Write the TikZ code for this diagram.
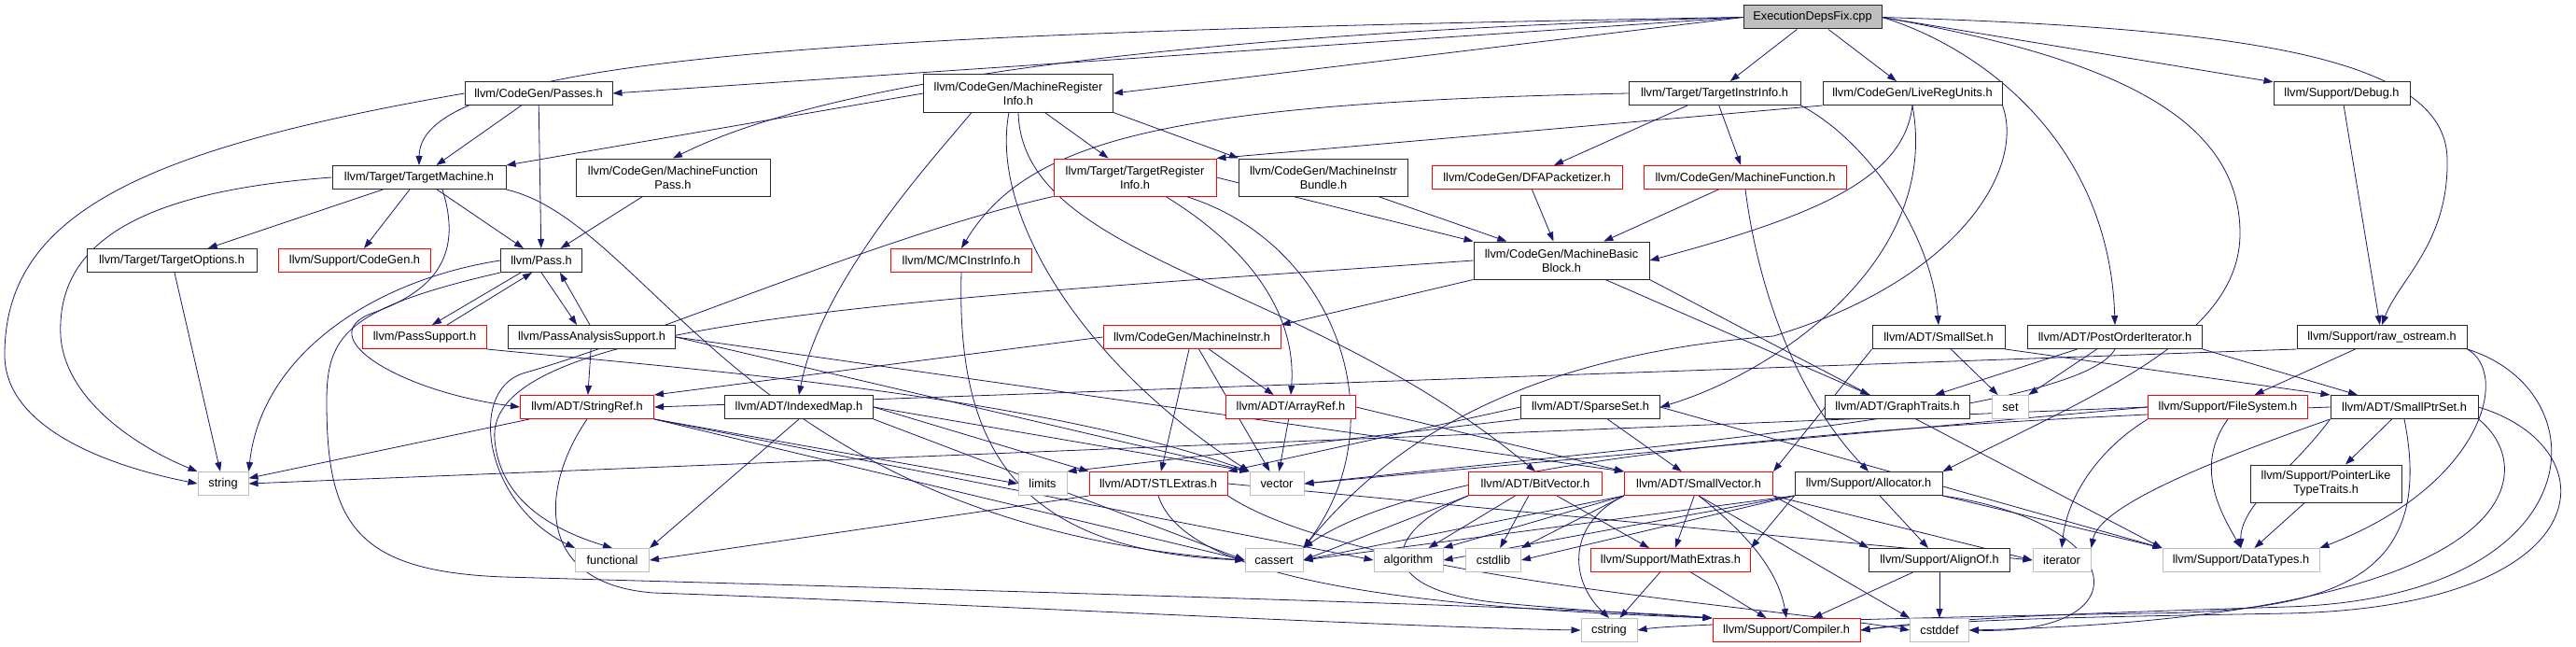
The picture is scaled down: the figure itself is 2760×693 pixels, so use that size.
\documentclass[tikz,border=0pt]{standalone}
\usepackage{fontspec}
\setmainfont{Liberation Sans}
\usepackage{tikz}
\usetikzlibrary{arrows.meta}
\definecolor{edgeblue}{HTML}{191970}
\definecolor{sysgray}{HTML}{BFBFBF}
\definecolor{rootgray}{HTML}{BFBFBF}
\definecolor{truncred}{HTML}{FF0000}
\pgfdeclarelayer{background}
\pgfsetlayers{background,main}
\tikzset{
    hdr/.style = {rectangle, draw=black!85, line width=1pt, fill=white,
                  font=\fontsize{12.8}{15}\selectfont, align=center,
                  inner xsep=4pt, inner ysep=0pt, minimum height=25pt},
    hdrtwo/.style = {hdr, minimum height=40pt},
    trunc/.style = {draw=truncred},
    sysinc/.style = {draw=sysgray},
    rootfile/.style = {hdr, fill=rootgray},
    dep/.style = {-{Triangle[length=10pt, width=7pt]}, line width=0.8pt, color=edgeblue},
}

\begin{document}
\begin{tikzpicture}[x=1pt, y=-1pt]
    \useasboundingbox (0,0) rectangle (2760,693);
    % source file
    \node[rootfile, minimum width=148pt] (root) at (1942,18.5) {ExecutionDepsFix.cpp};
    % headers, row by row
    \node[hdr, minimum width=158pt] (passes) at (577,100) {llvm/CodeGen/Passes.h};
    \node[hdrtwo, minimum width=203pt] (mri) at (1091,100) {llvm/CodeGen/MachineRegister\\Info.h};
    \node[hdr, minimum width=184pt] (tii) at (1837,100) {llvm/Target/TargetInstrInfo.h};
    \node[hdr, minimum width=192pt] (lru) at (2049,100) {llvm/CodeGen/LiveRegUnits.h};
    \node[hdr, minimum width=146pt] (debug) at (2509,100) {llvm/Support/Debug.h};

    \node[hdr, minimum width=186pt] (tm) at (449,190) {llvm/Target/TargetMachine.h};
    \node[hdrtwo, minimum width=208pt] (mfp) at (721,190) {llvm/CodeGen/MachineFunction\\Pass.h};
    \node[hdrtwo, trunc, minimum width=174pt] (tri) at (1216,190) {llvm/Target/TargetRegister\\Info.h};
    \node[hdrtwo, minimum width=181pt] (mib) at (1418,190) {llvm/CodeGen/MachineInstr\\Bundle.h};
    \node[hdr, trunc, minimum width=204pt] (dfa) at (1636,190) {llvm/CodeGen/DFAPacketizer.h};
    \node[hdr, trunc, minimum width=217pt] (mf) at (1870,190) {llvm/CodeGen/MachineFunction.h};

    \node[hdr, minimum width=182pt] (topt) at (184,279) {llvm/Target/TargetOptions.h};
    \node[hdr, trunc, minimum width=163pt] (cg) at (380,279) {llvm/Support/CodeGen.h};
    \node[hdr, minimum width=87pt] (pass) at (580,279) {llvm/Pass.h};
    \node[hdr, trunc, minimum width=151pt] (mcii) at (1030,279) {llvm/MC/MCInstrInfo.h};
    \node[hdrtwo, minimum width=188pt] (mbb) at (1673,279) {llvm/CodeGen/MachineBasic\\Block.h};

    \node[hdr, trunc, minimum width=133pt] (psup) at (455,361) {llvm/PassSupport.h};
    \node[hdr, minimum width=179pt] (pas) at (634,361) {llvm/PassAnalysisSupport.h};
    \node[hdr, trunc, minimum width=190pt] (mi) at (1277,361) {llvm/CodeGen/MachineInstr.h};
    \node[hdr, minimum width=142pt] (smset) at (2077,361) {llvm/ADT/SmallSet.h};
    \node[hdr, minimum width=187pt] (poi) at (2266,361) {llvm/ADT/PostOrderIterator.h};
    \node[hdr, minimum width=182pt] (raw) at (2552,361) {llvm/Support/raw\_ostream.h};

    \node[hdr, trunc, minimum width=143pt] (sref) at (629,436) {llvm/ADT/StringRef.h};
    \node[hdr, minimum width=159pt] (imap) at (856,436) {llvm/ADT/IndexedMap.h};
    \node[hdr, trunc, minimum width=139pt] (aref) at (1383,436) {llvm/ADT/ArrayRef.h};
    \node[hdr, minimum width=149pt] (sset) at (1704,436) {llvm/ADT/SparseSet.h};
    \node[hdr, minimum width=155pt] (gtr) at (2033,436) {llvm/ADT/GraphTraits.h};
    \node[hdr, sysinc, minimum width=39pt] (set) at (2154,436) {set};
    \node[hdr, trunc, minimum width=171pt] (fs) at (2387,436) {llvm/Support/FileSystem.h};
    \node[hdr, minimum width=158pt] (sps) at (2576,436) {llvm/ADT/SmallPtrSet.h};

    \node[hdr, sysinc, minimum width=54pt] (string) at (239,518) {string};
    \node[hdr, sysinc, minimum width=52pt] (limits) at (1117,518) {limits};
    \node[hdr, trunc, minimum width=148pt] (stl) at (1241,518) {llvm/ADT/STLExtras.h};
    \node[hdr, sysinc, minimum width=58pt] (vector) at (1368,518) {vector};
    \node[hdr, trunc, minimum width=143pt] (bv) at (1645,518) {llvm/ADT/BitVector.h};
    \node[hdr, trunc, minimum width=159pt] (sv) at (1820,518) {llvm/ADT/SmallVector.h};
    \node[hdr, minimum width=158pt] (alloc) at (2002,518) {llvm/Support/Allocator.h};
    \node[hdrtwo, minimum width=162pt] (pltt) at (2492,518) {llvm/Support/PointerLike\\TypeTraits.h};

    \node[hdr, sysinc, minimum width=79pt] (functional) at (656,600) {functional};
    \node[hdr, sysinc, minimum width=62pt] (cassert) at (1365,600) {cassert};
    \node[hdr, sysinc, minimum width=74pt] (algorithm) at (1509,600) {algorithm};
    \node[hdr, sysinc, minimum width=59pt] (cstdlib) at (1600,600) {cstdlib};
    \node[hdr, trunc, minimum width=171pt] (mathx) at (1790,600) {llvm/Support/MathExtras.h};
    \node[hdr, minimum width=151pt] (alignof) at (2078,600) {llvm/Support/AlignOf.h};
    \node[hdr, sysinc, minimum width=62pt] (iterator) at (2209,600) {iterator};
    \node[hdr, sysinc, minimum width=168pt] (dtypes) at (2401,600) {llvm/Support/DataTypes.h};

    \node[hdr, sysinc, minimum width=60pt] (cstring) at (1724,675) {cstring};
    \node[hdr, trunc, minimum width=158pt] (compiler) at (1914,675) {llvm/Support/Compiler.h};
    \node[hdr, sysinc, minimum width=63pt] (cstddef) at (2078,675) {cstddef};

    \begin{pgfonlayer}{background}
    % includes of the source file
    \draw[dep] (root.west) -- (passes.east);
    \draw[dep] (root.west) .. controls (900,35) and (450,60) .. (tm.north);
    \draw[dep] (root.west) .. controls (1300,35) and (900,80) .. (mfp.north);
    \draw[dep] (root.west) -- (mri.east);
    \draw[dep] (root) -- (tii);
    \draw[dep] (root) -- (lru);
    \draw[dep] (root.east) .. controls (2120,50) and (2260,150) .. (poi.north);
    \draw[dep] (root.east) .. controls (2250,60) and (2400,120) .. (2400,250)
               .. controls (2400,360) and (2250,420) .. (alloc.north east);
    \draw[dep] (root.east) -- (debug);
    \draw[dep] (root.east) .. controls (2400,30) and (2620,60) .. (2622,170)
               .. controls (2624,260) and (2570,300) .. (raw.north);
    % Passes.h, TargetMachine.h
    \draw[dep] (passes) -- (tm);
    \draw[dep] (passes) -- (pass);
    \draw[dep] (passes.west) .. controls (150,160) and (5,230) .. (5,380)
               .. controls (5,460) and (120,500) .. (string.west);
    \draw[dep] (tm) -- (topt);
    \draw[dep] (tm) -- (cg);
    \draw[dep] (tm) -- (pass);
    \draw[dep] (tm.west) .. controls (150,205) and (60,260) .. (65,360)
               .. controls (70,430) and (150,480) .. (string.north west);
    \draw[dep] ([xshift=25pt]tm.south) .. controls (495,270) and (470,310) .. (400,335)
               .. controls (330,360) and (430,420) .. (sref.west);
    \draw[dep] (tm.south east) .. controls (700,240) and (800,560) .. (cassert.west);
    \draw[dep] (topt) -- (string);
    \draw[dep] (mfp) -- (pass);
    % Pass.h and its helpers
    \draw[dep] ([xshift=-22pt]pass.south) -- ([xshift=8pt]psup.north);
    \draw[dep] ([xshift=24pt]psup.north) -- ([xshift=-10pt]pass.south);
    \draw[dep] (pass.south) -- ([xshift=-16pt]pas.north);
    \draw[dep] ([xshift=-2pt]pas.north) -- ([xshift=20pt]pass.south);
    \draw[dep] (pass.west) .. controls (400,300) and (280,380) .. (string.north east);
    \draw[dep] (pass.south west) .. controls (370,330) and (350,360) .. (350,430)
               .. controls (350,560) and (380,612) .. (540,618)
               .. controls (900,628) and (1700,650) .. (compiler.north west);
    \draw[dep] (psup.south east) .. controls (700,392) and (1100,420) .. (vector.north west);
    \draw[dep] (pas) -- (sref);
    \draw[dep] (pas.east) -- (sv.north west);
    \draw[dep] (pas.east) -- (vector.north west);
    % MachineRegisterInfo.h
    \draw[dep] (mri.west) -- (tm.north east);
    \draw[dep] (mri) -- (tri);
    \draw[dep] (mri.south east) -- (mib.north west);
    \draw[dep] ([xshift=-50pt]mri.south) .. controls (1000,170) and (880,300) .. (imap.north);
    \draw[dep] ([xshift=-10pt]mri.south) .. controls (1060,230) and (1160,390) .. (vector.north west);
    \draw[dep] (mri.south) .. controls (1095,280) and (1400,300) .. (bv.north);
    % TargetRegisterInfo.h
    \draw[dep] (tri.east) -- (mbb.north west);
    \draw[dep] ([xshift=33pt]tri.south) .. controls (1330,260) and (1390,330) .. (aref.north);
    \draw[dep] ([xshift=55pt]tri.south) .. controls (1430,260) and (1500,450) .. (cassert.north east);
    \draw[dep] (tri.south west) .. controls (950,250) and (700,360) .. (560,400)
               .. controls (500,420) and (520,540) .. (functional.north west);
    \draw[dep] (mib) -- (mbb);
    \draw[dep] (dfa) -- (mbb);
    \draw[dep] (mf) -- (mbb);
    \draw[dep] (mf.south) .. controls (1885,320) and (1930,430) .. (alloc.north);
    % TargetInstrInfo.h, LiveRegUnits.h
    \draw[dep] (tii.west) .. controls (1250,110) and (1100,150) .. (mcii.north);
    \draw[dep] (tii) -- (dfa);
    \draw[dep] (tii) -- (mf);
    \draw[dep] (tii.south east) .. controls (2000,150) and (2070,250) .. (smset.north);
    \draw[dep] (lru.south west) -- (tri.north east);
    \draw[dep] (lru.south) .. controls (2040,190) and (1950,230) .. (mbb.east);
    \draw[dep] (lru.south) .. controls (2080,280) and (1900,400) .. (sset.east);
    \draw[dep] (lru.south east) .. controls (2170,180) and (2100,300) .. (1900,360)
               .. controls (1650,380) and (1500,460) .. (cassert.north east);
    \draw[dep] (mcii.south) .. controls (1025,470) and (1080,590) .. (cassert.west);
    % MachineBasicBlock.h, MachineInstr.h
    \draw[dep] (mbb.south west) -- (mi.north east);
    \draw[dep] (mbb) -- (gtr);
    \draw[dep] (mbb.south east) -- (dtypes.north west);
    \draw[dep] (mbb.west) .. controls (1000,320) and (520,340) .. (530,470)
               .. controls (535,540) and (600,570) .. (functional.north);
    \draw[dep] (mi.west) -- (sref.north east);
    \draw[dep] (mi) -- (aref);
    \draw[dep] (mi) -- (stl);
    \draw[dep] (mi) -- (vector);
    % StringRef.h, IndexedMap.h, ArrayRef.h
    \draw[dep] (sref) -- (string);
    \draw[dep] (sref.south east) -- (limits.west);
    \draw[dep] (sref.south east) -- (cassert.west);
    \draw[dep] (sref.south east) -- (algorithm.west);
    \draw[dep] (sref.south) .. controls (580,520) and (570,625) .. (700,635)
               .. controls (1000,645) and (1500,672) .. (cstring.west);
    \draw[dep] (imap.east) -- (stl.north west);
    \draw[dep] (imap.south) -- (functional.north east);
    \draw[dep] (imap.south east) -- (cassert.west);
    \draw[dep] (imap.east) -- (vector.north west);
    \draw[dep] (aref) -- (vector);
    \draw[dep] (aref.east) -- (sv.north west);
    % STLExtras.h, SparseSet.h, SmallSet.h, PostOrderIterator.h
    \draw[dep] (stl.south west) -- (functional.east);
    \draw[dep] (stl.east) -- (iterator.west);
    \draw[dep] (stl.south east) .. controls (1450,620) and (1900,650) .. (cstddef.west);
    \draw[dep] (stl.south) .. controls (1270,620) and (1500,650) .. (compiler.north west);
    \draw[dep] (sset.west) -- (stl.north east);
    \draw[dep] (sset.south west) -- (limits.north east);
    \draw[dep] (sset) -- (sv);
    \draw[dep] (sset.east) -- (dtypes.north west);
    \draw[dep] (smset.south east) -- (sps.north west);
    \draw[dep] (smset.south west) -- (sv.north east);
    \draw[dep] (smset) -- (set);
    \draw[dep] (poi) -- (gtr);
    \draw[dep] (poi) -- (set);
    \draw[dep] (poi.south east) -- ([xshift=-50pt]sps.north);
    \draw[dep] (poi.south) .. controls (2230,440) and (1800,475) .. (vector.east);
    % FileSystem.h, raw_ostream.h, Debug.h
    \draw[dep] (fs.west) -- (string.east);
    \draw[dep] (fs.west) -- (vector.east);
    \draw[dep] (fs.south west) .. controls (2250,480) and (2215,530) .. (iterator.north);
    \draw[dep] (fs.south) .. controls (2350,500) and (2380,550) .. (dtypes.north);
    \draw[dep] (raw.south west) -- (sref.east);
    \draw[dep] (raw) -- (fs);
    \draw[dep] (raw.south east) .. controls (2690,400) and (2660,520) .. (dtypes.north east);
    \draw[dep] (raw.south east) .. controls (2790,420) and (2780,640) .. (2450,650)
               .. controls (2300,655) and (2100,660) .. (compiler.east);
    \draw[dep] (debug) -- (raw);
    % SmallPtrSet.h
    \draw[dep] (sps) -- (pltt);
    \draw[dep] (pltt) -- (dtypes);
    \draw[dep] (sps.south west) .. controls (2460,500) and (2400,540) .. (dtypes.north);
    \draw[dep] (sps.south west) .. controls (2380,490) and (2250,540) .. (iterator.north east);
    \draw[dep] (sps.west) .. controls (2100,450) and (1550,480) .. (cassert.north east);
    \draw[dep] (sps.south) .. controls (2610,620) and (2500,655) .. (2300,657)
               .. controls (2100,660) and (1800,668) .. (cstring.east);
    \draw[dep] (sps.south east) .. controls (2720,500) and (2720,660) .. (cstddef.east);
    \draw[dep] (sps.east) .. controls (2800,480) and (2790,650) .. (2450,657)
               .. controls (2300,660) and (2100,662) .. (compiler.east);
    % BitVector.h, SmallVector.h, Allocator.h
    \draw[dep] (bv.south west) -- (cassert.east);
    \draw[dep] (bv) -- (algorithm);
    \draw[dep] (bv) -- (cstdlib);
    \draw[dep] (bv) -- (mathx);
    \draw[dep] (bv.south west) .. controls (1480,570) and (1470,630) .. (1600,645)
               .. controls (1700,655) and (1800,660) .. (compiler.north west);
    \draw[dep] (sv.south west) -- (cassert.east);
    \draw[dep] (sv.south west) -- (algorithm.north east);
    \draw[dep] (sv.south west) -- (cstdlib.north east);
    \draw[dep] (sv) -- (mathx);
    \draw[dep] (sv.south east) -- (alignof.north west);
    \draw[dep] (sv.south) .. controls (1870,570) and (1905,610) .. (compiler.north);
    \draw[dep] (sv.south) -- (cstddef.north west);
    \draw[dep] (sv.south west) .. controls (1680,560) and (1680,620) .. (cstring.north);
    \draw[dep] (sv.south east) -- (iterator.west);
    \draw[dep] (alloc) -- (alignof);
    \draw[dep] (alloc.south east) -- (dtypes.north west);
    \draw[dep] (alloc.south west) -- (mathx.north east);
    \draw[dep] (alloc.south west) -- (algorithm.east);
    \draw[dep] (alloc.south west) -- (cassert.east);
    \draw[dep] (alloc.south west) -- (cstdlib.east);
    \draw[dep] (alloc.south east) .. controls (2280,560) and (2300,680) .. (cstddef.east);
    % MathExtras.h, AlignOf.h
    \draw[dep] (mathx) -- (cstring);
    \draw[dep] (mathx) -- (compiler);
    \draw[dep] (alignof) -- (cstddef);
    \draw[dep] (alignof) -- (compiler);
    \end{pgfonlayer}
\end{tikzpicture}
\end{document}
